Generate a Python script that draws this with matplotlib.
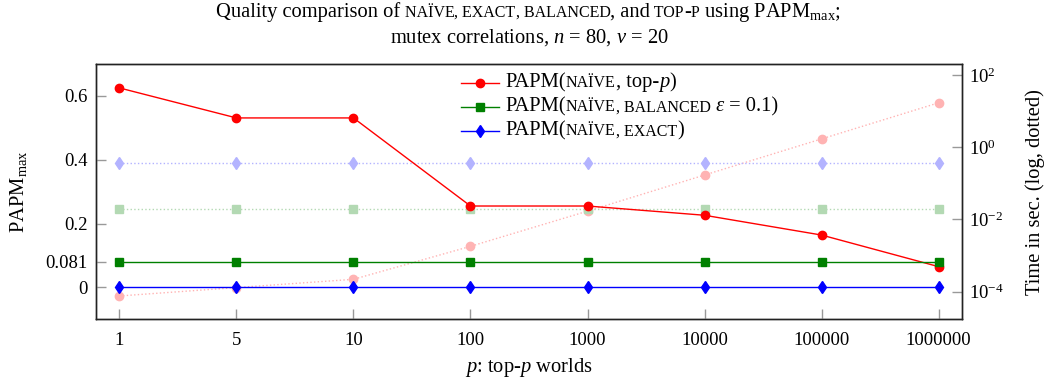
import numpy as np
import matplotlib
matplotlib.use("Agg")
import matplotlib.pyplot as plt
from matplotlib.offsetbox import TextArea, HPacker, VPacker, AnchoredOffsetbox, DrawingArea
from matplotlib.lines import Line2D
from matplotlib.ticker import NullLocator, FixedLocator

# ---------------- data ----------------
worlds = ["1", "5", "10", "100", "1000", "10000", "100000", "1000000"]
papm_topp = [0.625, 0.531, 0.531, 0.255, 0.255, 0.226, 0.164, 0.065]
papm_balanced = [0.081, 0.081, 0.081, 0.081, 0.081, 0.081, 0.081, 0.081]
papm_exact = [0.0, 0.0, 0.0, 0.0, 0.0, 0.0, 0.0, 0.0]
time_topp = [7.6e-5, 1.3e-4, 2.2e-4, 1.8e-3, 1.7e-2, 0.17, 1.7, 17.0]
time_balanced = [0.019, 0.019, 0.019, 0.019, 0.019, 0.019, 0.019, 0.019]
time_exact = [0.36, 0.36, 0.36, 0.36, 0.36, 0.36, 0.36, 0.36]
left_ticks = [0, 0.081, 0.2, 0.4, 0.6]
left_ticklabels = ["0", "0.081", "0.2", "0.4", "0.6"]
right_ticks = [1e-4, 1e-2, 1e0, 1e2]
right_ticklabels = ["$10^{-4}$", "$10^{-2}$", "$10^{0}$", "$10^{2}$"]

# ---------------- style ----------------
FONT = "Liberation Serif"
plt.rcParams["font.family"] = [FONT, "DejaVu Serif"]
plt.rcParams["mathtext.fontset"] = "custom"
plt.rcParams["mathtext.rm"] = FONT
plt.rcParams["mathtext.it"] = FONT + ":italic"
plt.rcParams["mathtext.bf"] = FONT + ":bold"
FS = 13.5      # tick labels (digits)
FT = 14.8      # words
SC = 0.78

RED, GREEN, BLUE = "#ff0000", "#008000", "#0000ff"
LRED, LGREEN, LBLUE = "#ffb3b3", "#b3d9b3", "#b3b3ff"

W, H = 1047, 385
fig = plt.figure(figsize=(W / 100, H / 100), dpi=100)
ax = fig.add_axes([96 / W, 1 - 319.3 / H, (962 - 96) / W, (319.3 - 64) / H])
ax2 = ax.twinx()

x = np.arange(len(worlds))

# time (right, log, dotted, light)
ax2.set_yscale("log")
ax2.plot(x, time_topp, color=LRED, ls=":", lw=1, marker="o", ms=6, mec=LRED)
ax2.plot(x, time_balanced, color=LGREEN, ls=":", lw=1, marker="s", ms=5.8, mec=LGREEN)
ax2.plot(x, time_exact, color=LBLUE, ls=":", lw=1, marker="d", ms=6.5, mec=LBLUE)

# quality (left)
ax.plot(x, papm_topp, color=RED, lw=1, marker="o", ms=6)
ax.plot(x, papm_balanced, color=GREEN, lw=1, marker="s", ms=5.8)
ax.plot(x, papm_exact, color=BLUE, lw=1, marker="d", ms=6.5)
ax.set_zorder(ax2.get_zorder() + 1)
ax.patch.set_visible(False)

ax.set_xlim(-0.2, 7.2)
ax.set_ylim(-0.1, 0.7)
ax2.set_ylim(10 ** -4.765, 10 ** 2.305)

ax.set_xticks(x)
ax.set_xticklabels(worlds)
ax.set_yticks(left_ticks)
ax.set_yticklabels(left_ticklabels)
ax2.yaxis.set_major_locator(FixedLocator(right_ticks))
ax2.set_yticklabels(right_ticklabels)
ax2.yaxis.set_minor_locator(NullLocator())

for a in (ax, ax2):
    for s in a.spines.values():
        s.set_color("#222222")
        s.set_linewidth(1.0)

ax.tick_params(axis="y", direction="in", length=7, width=1, color="#999999",
               labelsize=FS, pad=6, right=False)
ax.tick_params(axis="x", direction="in", length=7, width=1, color="#999999",
               labelsize=FS, pad=9.5, top=False)
ax2.tick_params(axis="y", direction="in", length=7, width=1, color="#999999",
                labelsize=FS, pad=5)

ax.set_ylabel("PAPM$_{\\mathrm{max}}$", fontsize=FT)
ax.yaxis.set_label_coords(-0.077, 0.5)
ax2.set_ylabel("Time in sec. (log, dotted)", fontsize=FT)
ax2.yaxis.set_label_coords(1.0727, 0.5)
ax.set_xlabel("$p$: top-$p$ worlds", fontsize=FT)
ax.xaxis.set_label_coords(0.5, -0.145)


# ---------------- rich text helpers ----------------
def sc(word, lead=""):
    """small caps: lowercase letters -> smaller uppercase"""
    out = []
    buf, mode = lead, None
    for ch in word:
        m = ch.islower()
        if mode is not None and m != mode:
            out.append((buf.upper(), FT * SC, "normal") if mode else (buf, FT, "normal"))
            buf = ""
        buf += ch
        mode = m
    if buf:
        out.append((buf.upper(), FT * SC, "normal") if mode else (buf, FT, "normal"))
    return out


def N(t):
    return [(t, FT, "normal")]


def I(t):
    return [(t, FT, "italic")]


def rich(segs):
    kids = [TextArea(t, textprops=dict(fontsize=fs, fontstyle=st, color="black"))
            for t, fs, st in segs]
    return HPacker(children=kids, align="baseline", pad=0, sep=0)


# ---------------- title ----------------
title1 = (N("Quality comparison of") + sc("naïve", " ") + sc("exact", ", ")
          + sc("balanced", ", ") + N(", and") + sc("top-p", " ")
          + N(" using PAPM$_{\\mathrm{max}}$;"))
tb = AnchoredOffsetbox(loc="lower center", child=rich(title1), pad=0, borderpad=0,
                       frameon=False, bbox_to_anchor=(529 / W, 1 - 24 / H),
                       bbox_transform=fig.transFigure)
fig.add_artist(tb)
fig.text(529 / W, 1 - 43 / H, "mutex correlations, $n$ = 80, $v$ = 20",
         ha="center", va="baseline", fontsize=FT)


# ---------------- legend ----------------
def handle(color, marker, ms):
    da = DrawingArea(27, 10, 0, 0)
    da.add_artist(Line2D([0, 27], [5, 5], color=color, lw=1))
    da.add_artist(Line2D([13.5], [5], color=color, marker=marker, ms=ms, ls="none"))
    return da


rows = [
    (handle(RED, "o", 6), N("PAPM(") + sc("naïve") + N(", top-") + I("p") + N(")")),
    (handle(GREEN, "s", 5.8), N("PAPM(") + sc("naïve") + sc("balanced", ", ")
     + I(" ε") + N(" = 0.1)")),
    (handle(BLUE, "d", 6.5), N("PAPM(") + sc("naïve") + sc("exact", ", ") + N(")")),
]
row_boxes = [HPacker(children=[h, rich(t)], align="center", pad=0, sep=5) for h, t in rows]
leg = AnchoredOffsetbox(loc="upper left", child=VPacker(children=row_boxes, align="left",
                                                        pad=0, sep=3.4),
                        pad=0, borderpad=0, frameon=False,
                        bbox_to_anchor=(461 / W, 1 - 73 / H),
                        bbox_transform=fig.transFigure)
leg.set_zorder(10)
fig.add_artist(leg)

fig.savefig("out.png", dpi=100)
